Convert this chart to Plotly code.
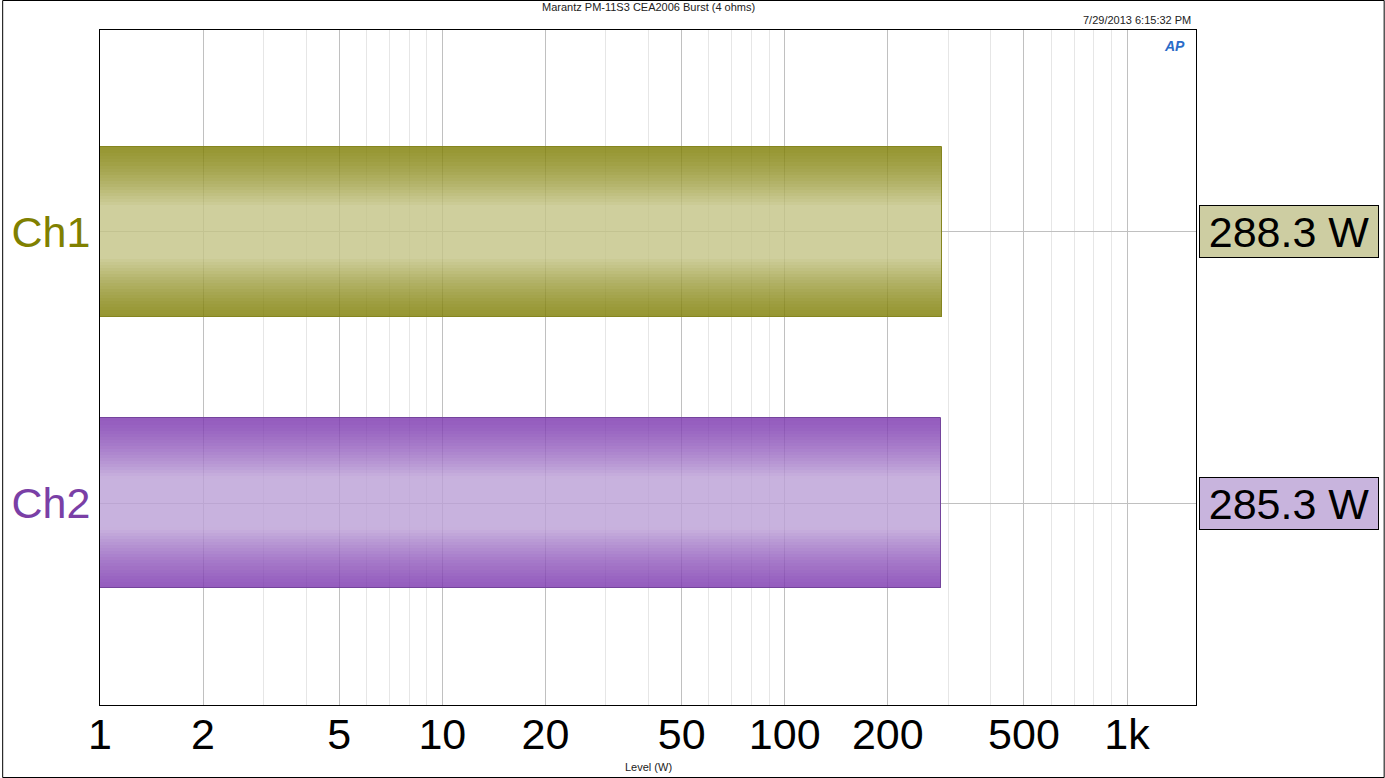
import numpy as np
import plotly.graph_objects as go

# ---- data ----
channels = ["Ch1", "Ch2"]
levels_w = [288.3, 285.3]
value_labels = ["288.3 W", "285.3 W"]
tick_vals = [1, 2, 5, 10, 20, 50, 100, 200, 500, 1000]
tick_text = ["1", "2", "5", "10", "20", "50", "100", "200", "500", "1k"]
minor_vals = [3, 4, 6, 7, 8, 9, 30, 40, 60, 70, 80, 90, 300, 400, 600, 700, 800, 900]
title_text = "Marantz PM-11S3 CEA2006 Burst (4 ohms)"
date_text = "7/29/2013 6:15:32 PM"
x_title = "Level (W)"

# ---- styles ----
FONT = "Arial, Liberation Sans, sans-serif"
label_colors = ["#808000", "#7a3fa6"]
dark_cols = [(150, 150, 50), (148, 92, 190)]
light_cols = [(207, 207, 157), (200, 178, 222)]
outline_cols = ["#85851f", "#74449c"]
box_fill = ["#cdcda2", "#c8b4dd"]
ALPHA = 0.8
BAR_W = 0.624
N = 56


def comp(C):
    c = [(v - (1 - ALPHA) * 255) / ALPHA for v in C]
    c = [int(round(min(255, max(0, v)))) for v in c]
    return "rgba(%d,%d,%d,%.2f)" % (c[0], c[1], c[2], ALPHA)


fig = go.Figure()
band = BAR_W / N
for k in range(N):
    s = (k + 0.5) / N
    d = abs(2 * s - 1)
    f = min(1.0, max(0.0, (1 - d) / 0.7)) ** 1.3
    cols = []
    for i in range(len(channels)):
        C = [dark_cols[i][j] + f * (light_cols[i][j] - dark_cols[i][j]) for j in range(3)]
        cols.append(comp(C))
    fig.add_trace(go.Bar(
        x=levels_w, y=channels, orientation="h",
        width=band, offset=-BAR_W / 2 + k * band,
        marker=dict(color=cols, line=dict(width=0)),
        showlegend=False, hoverinfo="skip",
    ))

fig.add_trace(go.Bar(
    x=levels_w, y=channels, orientation="h",
    width=BAR_W, offset=-BAR_W / 2,
    marker=dict(color="rgba(0,0,0,0)", line=dict(color=outline_cols, width=1)),
    showlegend=False, hoverinfo="skip",
))

annotations = []
for i, ch in enumerate(channels):
    annotations.append(dict(
        x=1.0027, xref="paper", y=ch, yref="y", xanchor="left", yanchor="middle",
        text=value_labels[i], showarrow=False,
        font=dict(family=FONT, size=43, color="black"),
        bgcolor=box_fill[i], bordercolor="black", borderwidth=1, borderpad=0,
        width=178, height=51, align="center",
    ))

annotations += [
    dict(x=0.5, y=1 + 23 / 675, xref="paper", yref="paper", text=title_text,
         showarrow=False, xanchor="center", yanchor="middle",
         font=dict(family=FONT, size=11, color="#222222")),
    dict(x=(1193 - 98) / 1098, y=1 + 10 / 675, xref="paper", yref="paper", text=date_text,
         showarrow=False, xanchor="right", yanchor="middle",
         font=dict(family=FONT, size=11, color="#222222")),
    dict(x=(1174 - 98) / 1098, y=1 - 16 / 675, xref="paper", yref="paper",
         text="<b><i>AP</i></b>", showarrow=False, xanchor="center", yanchor="middle",
         font=dict(family=FONT, size=14, color="#2a6cc8")),
    dict(x=0.5, y=-(767 - 705) / 675, xref="paper", yref="paper", text=x_title,
         showarrow=False, xanchor="center", yanchor="middle",
         font=dict(family=FONT, size=11, color="#222222")),
]

fig.update_layout(
    width=1385, height=778,
    margin=dict(l=98, r=189, t=30, b=73),
    paper_bgcolor="white", plot_bgcolor="white",
    barmode="overlay", bargap=0,
    annotations=annotations,
    shapes=[dict(type="rect", xref="paper", yref="paper",
                 x0=(0.5 - 98) / 1098, x1=(1384.5 - 98) / 1098,
                 y0=-(777.5 - 705) / 675, y1=1 + 29.5 / 675,
                 line=dict(color="black", width=1), layer="above")],
)

fig.update_xaxes(
    type="log", range=[0, np.log10(1590)],
    tickmode="array", tickvals=tick_vals, ticktext=tick_text,
    tickfont=dict(family=FONT, size=43, color="black"),
    showgrid=True, gridcolor="#c0c0c0", gridwidth=1,
    minor=dict(tickvals=minor_vals, showgrid=True, gridcolor="#e6e6e6", gridwidth=1, ticks=""),
    showline=True, linecolor="black", linewidth=1, mirror=True,
    ticks="", zeroline=False, ticklabelstandoff=-9,
)
fig.update_yaxes(
    type="category", range=[1.745, -0.745],
    tickmode="array", tickvals=channels,
    ticktext=["<span style='color:%s'>%s</span>" % (label_colors[i], ch) for i, ch in enumerate(channels)],
    tickfont=dict(family=FONT, size=43, color=label_colors[0]),
    showgrid=True, gridcolor="#c0c0c0", gridwidth=1,
    showline=True, linecolor="black", linewidth=1, mirror=True,
    ticks="", zeroline=False, ticklabelstandoff=0,
)

fig.write_html(
    "out.html",
    config={"responsive": False, "displayModeBar": False},
    post_script="document.body.style.margin='0';document.body.style.overflow='hidden';",
)
